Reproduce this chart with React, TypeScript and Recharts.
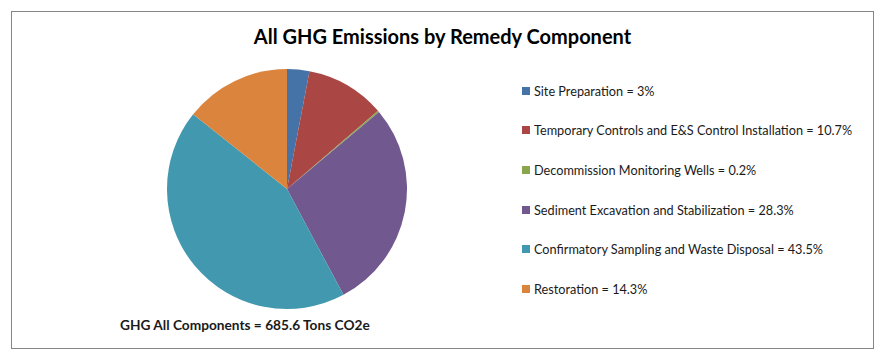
import React from 'react';
import { PieChart, Pie, Cell, Legend } from 'recharts';

const categories = [
  'Site Preparation',
  'Temporary Controls and E&S Control Installation',
  'Decommission Monitoring Wells',
  'Sediment Excavation and Stabilization',
  'Confirmatory Sampling and Waste Disposal',
  'Restoration',
];
const percents = [3, 10.7, 0.2, 28.3, 43.5, 14.3];
const colors = ['#4572A7', '#AA4643', '#89A54E', '#71588F', '#4198AF', '#DB843D'];

const title = 'All GHG Emissions by Remedy Component';
const totalLabel = 'GHG All Components = 685.6 Tons CO2e';

const data = categories.map((name, i) => ({ name, value: percents[i] }));

const font = 'Lato, "Open Sans", sans-serif';

// keep the legend in data order (recharts sorts the payload by name)
const LegendList = () => (
  <div style={{ fontFamily: font, fontSize: 12.7, color: '#1a1a1a' }}>
    {data.map((d, i) => (
      <div key={d.name} style={{ height: 39.6, display: 'flex', alignItems: 'center' }}>
        <span style={{ display: 'inline-block', width: 8, height: 8, background: colors[i], marginRight: 4 }} />
        <span>{d.name} = {d.value}%</span>
      </div>
    ))}
  </div>
);

const App: React.FC = () => {
  return (
    <div style={{ padding: 3 }}>
      <div style={{ position: 'relative', width: 861, height: 336, border: '1px solid #868686', background: '#fff' }}>
        <div style={{ position: 'absolute', top: 12, left: 0, width: 861, textAlign: 'center', fontFamily: font, fontWeight: 'bold', fontSize: 20, color: '#000' }}>
          {title}
        </div>
        <PieChart width={861} height={336}>
          <Pie
            data={data}
            dataKey="value"
            nameKey="name"
            cx={270}
            cy={172}
            outerRadius={120}
            startAngle={90}
            endAngle={-270}
            stroke="none"
            isAnimationActive={false}
          >
            {data.map((d, i) => (
              <Cell key={d.name} fill={colors[i]} />
            ))}
          </Pie>
          <Legend
            layout="vertical"
            content={<LegendList />}
            wrapperStyle={{ left: 510, top: 59, width: 350 }}
          />
        </PieChart>
        <div style={{ position: 'absolute', top: 304, left: 108, fontFamily: font, fontWeight: 'bold', fontSize: 13.7, color: '#1a1a1a' }}>
          {totalLabel}
        </div>
      </div>
    </div>
  );
};

export default App;
